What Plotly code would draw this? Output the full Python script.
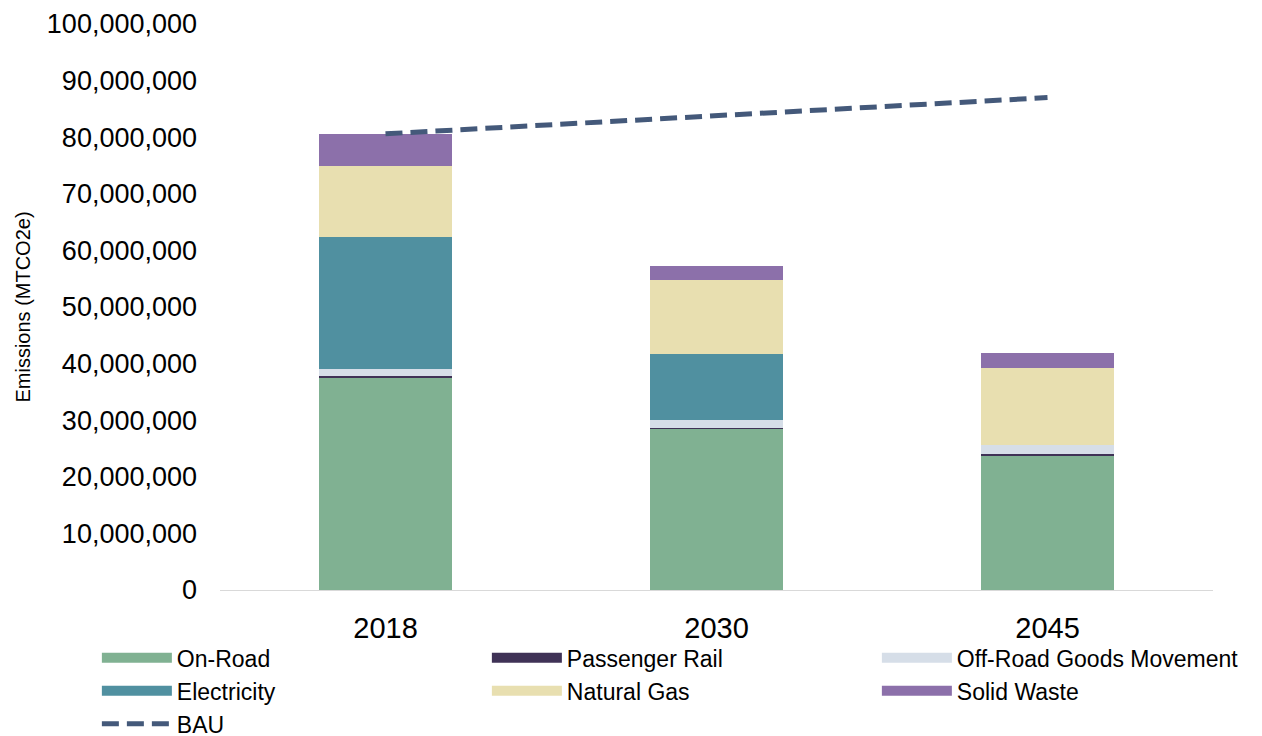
import plotly.graph_objects as go

years = ["2018", "2030", "2045"]
on_road = [37600000, 28500000, 23800000]
passenger_rail = [200000, 200000, 200000]
off_road = [1200000, 1300000, 1600000]
electricity = [23400000, 11700000, 0]
natural_gas = [12600000, 13000000, 13600000]
solid_waste = [5500000, 2500000, 2600000]
bau = [80600000, 83800000, 87000000]

series = [
    ("On-Road", on_road, "#80B192"),
    ("Passenger Rail", passenger_rail, "#3F3256"),
    ("Off-Road Goods Movement", off_road, "#D6DEE8"),
    ("Electricity", electricity, "#5090A0"),
    ("Natural Gas", natural_gas, "#E8DFB0"),
    ("Solid Waste", solid_waste, "#8C70AA"),
]

fig = go.Figure()

for name, vals, color in series:
    fig.add_trace(go.Bar(
        x=years, y=vals, name=name, marker=dict(color=color, line=dict(width=0)),
        width=0.4, showlegend=False, legendgroup=name,
    ))
    # wide swatch for the legend
    fig.add_trace(go.Scatter(
        x=[None], y=[None], mode="lines", name=name, legendgroup=name,
        line=dict(color=color, width=14),
    ))

fig.add_trace(go.Scatter(
    x=years, y=bau, mode="lines", name="BAU",
    line=dict(color="#44597A", width=5, dash="17px,8px"),
))

fig.update_layout(
    barmode="stack",
    width=1254, height=736,
    margin=dict(l=212, r=49, t=16, b=154, autoexpand=False),
    paper_bgcolor="white", plot_bgcolor="white",
    font=dict(family="Liberation Sans, Arial, sans-serif", color="#000000", size=24),
    legend=dict(
        orientation="h", x=-0.124, y=-0.082, xanchor="left", yanchor="top",
        entrywidth=305, entrywidthmode="pixels", bgcolor="rgba(0,0,0,0)",
        font=dict(size=23), itemwidth=70, tracegroupgap=0,
    ),
)

fig.update_yaxes(
    range=[0, 100000000], dtick=10000000, tickformat=",d",
    showgrid=False, zeroline=False, showline=False, automargin=False,
    tickfont=dict(size=27), ticklabelstandoff=22,
    title=dict(text="Emissions (MTCO2e)", font=dict(size=20), standoff=10),
)
fig.update_xaxes(
    showline=True, linecolor="#D9D9D9", linewidth=1, showgrid=False,
    tickfont=dict(size=29), ticks="", automargin=False, ticklabelstandoff=12,
)

fig.write_html("out.html")
